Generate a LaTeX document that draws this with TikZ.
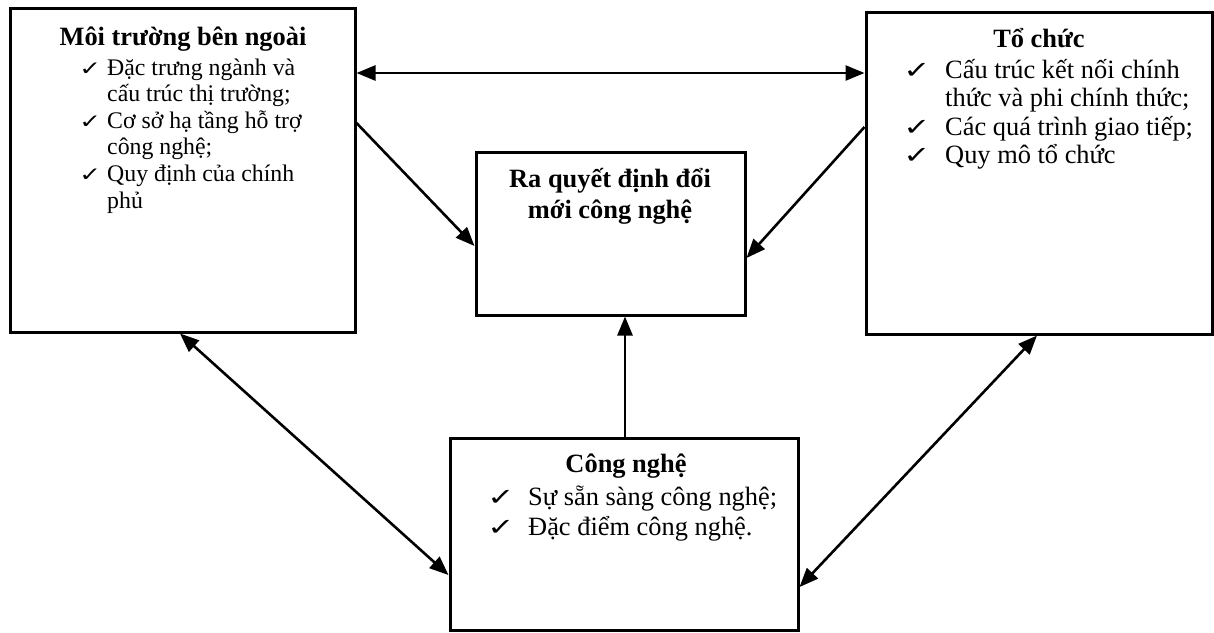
\documentclass[tikz,border=0pt]{standalone}
\usepackage{fontspec}
\setmainfont{Liberation Serif}
\newfontfamily\checkfont{DejaVu Sans}
\usetikzlibrary{arrows.meta}
\begin{document}
\begin{tikzpicture}[x=1pt,y=-1pt,
  box/.style={draw,line width=3pt,inner sep=0pt,fill=none},
  tip/.tip={Triangle[length=19pt,width=15pt]},
  conn/.style={line width=2.6pt,-tip},
  bconn/.style={line width=2.6pt,tip-tip},
  ttl/.style={inner sep=0pt,anchor=base,font=\fontsize{26.4}{30}\selectfont\bfseries},
  itemS/.style={inner sep=0pt,anchor=base west,font=\fontsize{23.8}{26}\selectfont},
  itemL/.style={inner sep=0pt,anchor=base west,font=\fontsize{26.4}{30}\selectfont},
  chkS/.style={inner sep=0pt,anchor=base west,xscale=1.3,font=\fontsize{20}{22}\checkfont},
  chkL/.style={inner sep=0pt,anchor=base west,xscale=1.35,font=\fontsize{24}{26}\checkfont}]
\useasboundingbox (0,0) rectangle (1214,632);

% frames
\node[box,minimum width=345pt,minimum height=324pt] (L) at (182.5,170) {};
\node[box,minimum width=346pt,minimum height=322pt] (R) at (1039,173) {};
\node[box,minimum width=269pt,minimum height=163pt] (C) at (610.5,233.5) {};
\node[box,minimum width=348pt,minimum height=192pt] (B) at (624,534) {};

% external environment
\node[ttl] (Lt) at (183,45) {Môi trường bên ngoài};
\node[chkS] (Lc1) at (79,75) {✓};
\node[itemS] (L1) at (107,75) {Đặc trưng ngành và};
\node[itemS] (L2) at (107,101.6) {cấu trúc thị trường;};
\node[chkS] (Lc2) at (79,128.2) {✓};
\node[itemS] (L3) at (107,128.2) {Cơ sở hạ tầng hỗ trợ};
\node[itemS] (L4) at (107,154.8) {công nghệ;};
\node[chkS] (Lc3) at (79,181.4) {✓};
\node[itemS] (L5) at (107,181.4) {Quy định của chính};
\node[itemS] (L6) at (107,208) {phủ};

% organisation
\node[ttl] (Rt) at (1039,47) {Tổ chức};
\node[chkL] (Rc1) at (903,78) {✓};
\node[itemL] (R1) at (945,78) {Cấu trúc kết nối chính};
\node[itemL] (R2) at (945,106.5) {thức và phi chính thức;};
\node[chkL] (Rc2) at (903,135) {✓};
\node[itemL] (R3) at (945,135) {Các quá trình giao tiếp;};
\node[chkL] (Rc3) at (903,163.5) {✓};
\node[itemL] (R4) at (945,163.5) {Quy mô tổ chức};

% decision
\node[ttl] (Ct1) at (610,187) {Ra quyết định đổi};
\node[ttl] (Ct2) at (610,218) {mới công nghệ};

% technology
\node[ttl] (Bt) at (626,472) {Công nghệ};
\node[chkL] (Bc1) at (487,505) {✓};
\node[itemL] (B1) at (528,505) {Sự sẵn sàng công nghệ;};
\node[chkL] (Bc2) at (487,535) {✓};
\node[itemL] (B2) at (528,535) {Đặc điểm công nghệ.};

% connector anchors
\coordinate (h) at (0,73);
\coordinate (a1) at (0,123);
\coordinate (a2) at (0,246);
\coordinate (b1) at (0,127);
\coordinate (b2) at (0,258);
\coordinate (v) at (625,0);
\coordinate (l1) at (180,0);
\coordinate (l2) at (0,575);
\coordinate (r1) at (1037,0);
\coordinate (r2) at (0,587);

% connectors
\draw[bconn] (L.east |- h) -- (R.west |- h);
\draw[conn] (L.east |- a1) -- (C.west |- a2);
\draw[conn] (R.west |- b1) -- (C.east |- b2);
\draw[conn] (B.north -| v) -- (C.south -| v);
\draw[bconn] (L.south -| l1) -- (B.west |- l2);
\draw[bconn] (R.south -| r1) -- (B.east |- r2);
\end{tikzpicture}
\end{document}
